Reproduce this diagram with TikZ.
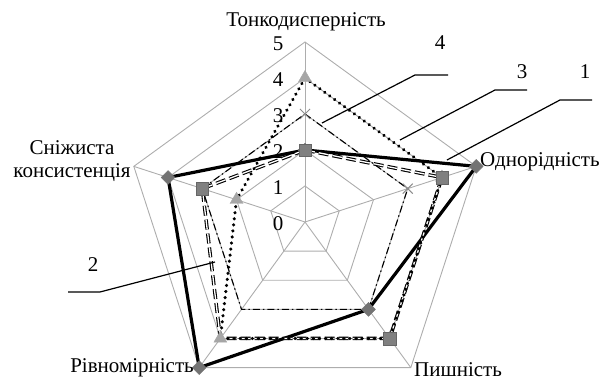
\documentclass[tikz,border=0pt]{standalone}
\usepackage{fontspec}
\setmainfont{Liberation Serif}
\usetikzlibrary{shapes.geometric,shapes.misc}
\begin{document}
\begin{tikzpicture}[x=1pt,y=1pt,
  grid/.style={draw=black!32,line width=0.9pt},
  serA/.style={draw=black,line width=3.2pt,line join=round},
  serB/.style={draw=black,line width=1.1pt,double=white,double distance=1.3pt,dash pattern=on 10pt off 4pt},
  serC/.style={draw=black,line width=1.1pt,dash pattern=on 7pt off 3pt on 1.5pt off 3pt},
  serD/.style={draw=black,line width=3.4pt,line cap=round,dash pattern=on 0.1pt off 6pt},
  mkdiam/.style={diamond,fill=black!55,draw=black!55,inner sep=0pt,minimum size=14pt},
  mksq/.style={rectangle,fill=black!50,draw=black!60,inner sep=0pt,minimum size=12.5pt},
  mktri/.style={regular polygon,regular polygon sides=3,fill=black!35,draw=black!35,inner sep=0pt,minimum size=15pt},
  mkx/.style={cross out,draw=black!45,line width=1pt,inner sep=0pt,minimum size=9pt},
  axlab/.style={font=\fontsize{21}{23}\selectfont,inner sep=0pt},
  num/.style={font=\fontsize{21}{23}\selectfont,inner sep=0pt},
  leader/.style={draw=black,line width=1.2pt}]
\useasboundingbox (0,0) rectangle (603,380);
\begin{scope}[shift={(305,158)}]
  % grid
  \coordinate (o) at (0,0);
  \foreach \r in {1,...,5}{
    \draw[grid] (90:\r*36) -- (18:\r*36) -- (-54:\r*36) -- (-126:\r*36) -- (162:\r*36) -- cycle;
  }
  \foreach \a/\n in {90/va,18/vb,-54/vc,-126/vd,162/ve}{
    \coordinate (\n) at (\a:180);
    \draw[grid] (o) -- (\n);
  }
  % tick numbers
  \foreach \k in {0,...,5}{
    \node[num] (t\k) at (-27,36*\k-2) {\k};
  }
  % series 1: 2,5,3,5,4
  \coordinate (p1a) at (90:72);  \coordinate (p1b) at (18:180);
  \coordinate (p1c) at (-54:108); \coordinate (p1d) at (-126:180);
  \coordinate (p1e) at (162:144);
  % series 2: 2,4,4,4,3
  \coordinate (p2a) at (90:72);  \coordinate (p2b) at (18:144);
  \coordinate (p2c) at (-54:144); \coordinate (p2d) at (-126:144);
  \coordinate (p2e) at (162:108);
  % series 3: 3,3,3,3,3
  \coordinate (p3a) at (90:108);  \coordinate (p3b) at (18:108);
  \coordinate (p3c) at (-54:108); \coordinate (p3d) at (-126:108);
  \coordinate (p3e) at (162:108);
  % series 4: 4,4,4,4,2
  \coordinate (p4a) at (90:144);  \coordinate (p4b) at (18:144);
  \coordinate (p4c) at (-54:144); \coordinate (p4d) at (-126:144);
  \coordinate (p4e) at (162:72);
  % lines
  \draw[serA] (p1a) -- (p1b) -- (p1c) -- (p1d) -- (p1e) -- cycle;
  \draw[serB] (p2a) -- (p2b) -- (p2c) -- (p2d) -- (p2e) -- cycle;
  \draw[serC] (p3a) -- (p3b) -- (p3c) -- (p3d) -- (p3e) -- cycle;
  \draw[serD] (p4a) -- (p4b) -- (p4c) -- (p4d) -- (p4e) -- cycle;
  % markers
  \foreach \n in {a,b,c,d,e}{ \node[mkdiam] (m1\n) at (p1\n) {}; }
  \foreach \n in {a,b}{ \node[mkx] (m3\n) at (p3\n) {}; }
  \foreach \n in {b,c}{ \node[mktri] (m4\n) at (p4\n) {}; }
  \foreach \n in {a,b,c,e}{ \node[mksq] (m2\n) at (p2\n) {}; }
  \foreach \n in {a,d,e}{ \node[mktri] (m4\n) at (p4\n) {}; }
\end{scope}
% axis labels
\node[axlab] (ta) at (306,358) {Тонкодисперність};
\node[axlab,anchor=west] (tb) at (480,218) {Однорідність};
\node[axlab,anchor=west] (tc) at (414,10) {Пишність};
\node[axlab,anchor=east] (td) at (194,12) {Рівномірність};
\node[axlab,align=center] (te) at (72,219) {Сніжиста\\консистенція};
% series labels and leaders
\node[num] (l4) at (440,337) {4};
\node[num] (l3) at (522,308) {3};
\node[num] (l1) at (585,308) {1};
\node[num] (l2) at (93,115) {2};
\coordinate (q4a) at (448,305); \coordinate (q4b) at (415,305); \coordinate (q4c) at (322,257);
\coordinate (q3a) at (527,290); \coordinate (q3b) at (495,290); \coordinate (q3c) at (400,240);
\coordinate (q1a) at (592,280); \coordinate (q1b) at (560,280); \coordinate (q1c) at (447,220);
\coordinate (q2a) at (68,88);   \coordinate (q2b) at (100,88);  \coordinate (q2c) at (215,118);
\draw[leader] (q4a) -- (q4b) -- (q4c);
\draw[leader] (q3a) -- (q3b) -- (q3c);
\draw[leader] (q1a) -- (q1b) -- (q1c);
\draw[leader] (q2a) -- (q2b) -- (q2c);
\end{tikzpicture}
\end{document}
